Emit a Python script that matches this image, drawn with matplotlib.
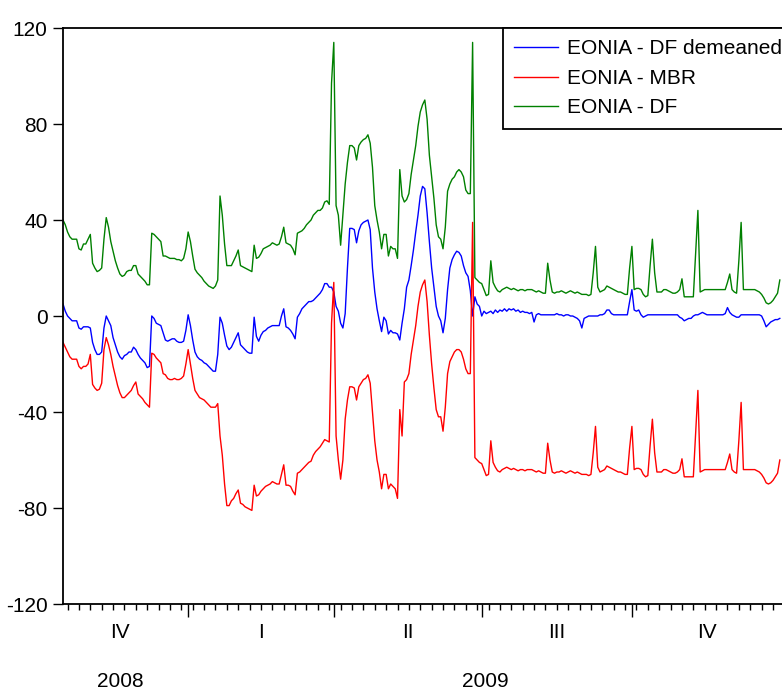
import numpy as np
import pandas as pd
import matplotlib
matplotlib.use("Agg")
import matplotlib.pyplot as plt
import matplotlib.transforms as mtransforms
from matplotlib import font_manager

# Daily (business-day) observations, 16 Oct 2008 .. 31 Dec 2009, basis points
dates = pd.bdate_range("2008-10-16", "2009-12-31")

eonia_df_demeaned = [
    5, 2, 0, -1, -2, -2, -2, -5, -5.5, -4.5,
    -4.5, -4.5, -5, -11, -14, -16, -16, -15, -5, 0,
    -2, -4, -9, -12, -15, -17, -18, -16.5, -16, -15,
    -15, -13, -14, -16, -17.5, -18.5, -19.5, -21.5, -21, 0,
    -1, -3, -3.5, -4, -7, -10, -10.5, -10, -9.5, -9.5,
    -10.5, -11, -11, -10.5, -6, 0.5, -4, -10, -15, -17,
    -18, -18.5, -19.5, -20, -21, -22, -23, -23, -16, -0.5,
    -3, -8, -12.5, -14, -13, -11, -9, -7, -12, -13,
    -14, -15, -15.5, -15.5, -0.5, -8.5, -10.5, -8, -6.5, -6,
    -5, -4.5, -4, -4, -4, -4, 0, 3, -4.5, -5,
    -6, -7.5, -9.5, -0.5, 1, 3, 4, 5, 6, 6,
    6.5, 7.5, 8.5, 9.5, 11, 13.5, 13.5, 12, 12, 10,
    4, 2, -3, -5, 1, 20, 36.5, 36.5, 36, 30.5,
    35.5, 38, 39, 39.5, 40, 36, 20, 10, 3, -2,
    -6.5, -0.5, -2, -7.5, -6, -7, -7, -7.5, -10, -3,
    3, 12, 15, 21, 27.5, 35, 42, 50, 54, 53,
    43, 31, 20, 12, 4, 0, -2, -7, -1, 11,
    20, 23.5, 25.5, 27, 26.5, 25, 21, 18, 16.5, 10.5,
    0, 8, 5, 4, 0, 2, 1, 1.5, 2, 1,
    2.5, 1.5, 2.5, 2, 3, 2, 3, 2.5, 3, 2,
    2.5, 1.5, 2, 1.5, 1.5, 1, 1.5, -2.5, 0.5, 1,
    0.5, 0.5, 0.5, 0.5, 0.5, 0.5, 0.5, 1, 0.5, 0.5,
    0, 0.5, 0.5, 0, 0, -0.5, -1, -2, -5, -1,
    -0.5, 0, 0, 0, 0, 0, 0.5, 0.5, 1, 2.5,
    2.5, 1, 0.5, 0.5, 0.5, 0.5, 0.5, 0.5, 0.5, 6,
    11, 2.5, 2, 2.5, 0.5, -0.5, 0, 0.5, 0.5, 0.5,
    0.5, 0.5, 0.5, 0.5, 0.5, 0.5, 0.5, 0.5, 0.5, 0.5,
    0.5, -0.5, -1, -2, -1.5, -1, -1, 0, 0.5, 0.5,
    1, 1.5, 1, 0.5, 0.5, 0.5, 0.5, 0.5, 0.5, 0.5,
    0.5, 1, 3.5, 1.5, 0.5, 0, -0.5, -0.5, 0.5, 0.5,
    0.5, 0.5, 0.5, 0.5, 0.5, 0.5, 0.5, 0, -2, -4.5,
    -3.5, -2.5, -2, -1.5, -1.5, -1,
]

eonia_mbr = [
    -11, -13, -15, -17, -18, -18, -18, -21, -22, -21,
    -21, -20, -16, -28.5, -30, -31, -30.5, -28, -14, -9,
    -12, -16, -21, -25, -29, -32, -34, -34, -33, -32,
    -31, -29, -27.5, -32.5, -33.5, -34.5, -36, -37, -38, -15.5,
    -16, -17.5, -18.5, -19.5, -24, -24.5, -26, -26.5, -26.5, -26,
    -26.5, -26.5, -26, -25, -20, -14, -20, -26, -31, -32.5,
    -34, -34.5, -35, -36, -37, -38, -38, -38, -36.5, -50,
    -58, -70, -79, -79, -77, -76, -74, -72.5, -78, -78.5,
    -79.5, -80, -80.5, -81, -70.5, -75, -74.5, -73, -72, -71,
    -70.5, -70, -69, -69.5, -70, -70, -66, -62, -70.5, -70.5,
    -71, -73, -74.5, -65.5, -65, -64, -63, -62, -61, -60.5,
    -58, -56.5, -55.5, -54.5, -53, -51.5, -52, -52.5, -3, 14,
    -50, -60, -68, -60, -43, -35, -29.5, -29.5, -30, -35,
    -29.5, -28, -26.5, -26, -24.5, -28, -40, -52, -60, -65,
    -72, -66, -66, -72, -70, -71, -72, -76, -39, -50,
    -27.5, -26.5, -24, -16, -10, -4, 4, 10, 13, 15,
    6, -8, -20, -30, -39, -42, -42, -48, -38, -24,
    -19, -17, -15, -14, -14, -15, -18, -22, -24, -24,
    39, -59, -60, -61, -61.5, -64, -66.5, -66, -52, -61,
    -63, -64.5, -65, -64, -63.5, -63, -63.5, -64, -63.5, -64,
    -64.5, -64, -64, -64.5, -64, -64, -64, -64.5, -65, -64.5,
    -65, -65.5, -65.5, -53, -60, -65, -65.5, -65, -65, -64.5,
    -65, -65.5, -65, -64.5, -65, -65.5, -65, -65.5, -66, -66,
    -66, -66.5, -66, -57, -46, -63, -65, -64.5, -64, -62.5,
    -63, -63.5, -64, -64.5, -65, -65, -65.5, -66, -66, -55,
    -46, -64, -63.5, -63.5, -64, -66, -67, -66.5, -54, -43,
    -57, -65, -65, -65, -64, -64, -64.5, -65, -65.5, -65.5,
    -65, -64, -59.5, -67, -67, -67, -67, -67, -49, -31,
    -65, -64.5, -64, -64, -64, -64, -64, -64, -64, -64,
    -64, -64, -61, -57.5, -64, -65, -65.5, -52, -36, -64,
    -64, -64, -64, -64, -64, -64.5, -65, -66, -67.5, -69.5,
    -70, -69.5, -68.5, -67, -65.5, -60,
]

eonia_df = [
    40, 38, 35, 33, 32, 32, 32, 28, 27.5, 30,
    30, 32, 34, 22, 20, 18.5, 19, 20, 32, 41,
    37, 31, 27, 23, 20, 17.5, 16.5, 17, 18.5, 19,
    19, 21, 21, 17.5, 16.5, 15.5, 14.5, 13, 13, 34.5,
    34, 33, 32, 31, 25, 25, 24.5, 24, 24, 24,
    23.5, 23.5, 23, 24, 28, 35, 31, 25, 19.5, 18,
    17, 16, 14.5, 13.5, 12.5, 12, 11.5, 12.5, 15, 50,
    42, 30, 21, 21, 21, 23, 25, 27.5, 21, 20.5,
    20, 19.5, 19, 18.5, 29.5, 24, 24.5, 26, 28, 28.5,
    29, 29.5, 30.5, 30, 29.5, 30, 33, 37, 30.5, 30,
    29.5, 28, 25.5, 34.5, 35, 35.5, 36.5, 38, 39, 40,
    42, 43, 44, 44, 45, 47.5, 48, 46.5, 97, 114,
    46, 42, 29.5, 42, 55, 64, 71, 71, 70, 65,
    71, 72.5, 73.5, 74, 75.5, 72, 62, 46, 40, 35,
    28, 34, 34, 25, 29, 28, 28, 24, 61, 50,
    47.5, 48.5, 51, 59, 65, 71, 79, 85, 88, 90,
    82, 67, 58, 49, 38, 33, 32, 28, 37, 52,
    55, 57, 58, 60, 61, 60, 58, 52.5, 51, 51,
    114, 16, 15, 14, 13.5, 11, 8.5, 9, 23, 14,
    12, 10.5, 10, 11, 11.5, 12, 11.5, 11, 11.5, 11,
    10.5, 11, 11, 10.5, 11, 11, 11, 10.5, 10, 10.5,
    10, 9.5, 9.5, 22, 15, 10, 9.5, 10, 10, 10.5,
    10, 9.5, 10, 10.5, 10, 9.5, 10, 9.5, 9, 9,
    9, 8.5, 9, 18, 29, 12, 10, 10.5, 11, 12.5,
    12, 11.5, 11, 10.5, 10, 10, 9.5, 9, 9, 20,
    29, 11, 11.5, 11.5, 11, 9, 8, 8.5, 21, 32,
    18, 10, 10, 10, 11, 11, 10.5, 10, 9.5, 9.5,
    10, 11, 15.5, 8, 8, 8, 8, 8, 26, 44,
    10, 10.5, 11, 11, 11, 11, 11, 11, 11, 11,
    11, 11, 14, 17.5, 11, 10, 9.5, 23, 39, 11,
    11, 11, 11, 11, 11, 10.5, 10, 9, 7.5, 5.5,
    5, 5.5, 6.5, 8, 9.5, 15,
]

series_names = ["EONIA - DF demeaned", "EONIA - MBR", "EONIA - DF"]
series_colors = ["#0000ff", "#ff0000", "#008000"]
quarter_names = ["IV", "I", "II", "III", "IV"]
year_names = ["2008", "2009"]

# Шрифт: узкий Arial-подобный, если есть
installed = {f.name for f in font_manager.fontManager.ttflist}
if "Liberation Sans Narrow" in installed:
    font_family, font_size = "Liberation Sans Narrow", 18
else:
    font_family, font_size = "Liberation Sans", 15
plt.rcParams["font.family"] = font_family
plt.rcParams["axes.unicode_minus"] = False

obs = np.arange(len(dates))
n = len(dates)

fig = plt.figure(figsize=(7.82, 6.93), dpi=100)
ax = fig.add_axes([63 / 782, 89 / 693, 720 / 782, 576 / 693])

lines = []
for vals, name, col in zip([eonia_df_demeaned, eonia_mbr, eonia_df], series_names, series_colors):
    ln, = ax.plot(obs, vals, color=col, lw=1.0, label=name)
    lines.append(ln)

ax.set_xlim(0, n + 0.4)
ax.set_ylim(-120, 120)

# Ось Y
ax.set_yticks([120, 80, 40, 0, -40, -80, -120])
ax.set_yticklabels(["120", "80", "40", "0", "-40", "-80", "-120"])
ax.tick_params(axis="y", direction="out", length=7, width=1, pad=4, labelsize=font_size)

# Ось X: недели (понедельники) и границы кварталов
q_starts = [i for i in range(1, n) if dates[i].quarter != dates[i - 1].quarter]
mondays = [i for i in range(n) if dates[i].weekday() == 0 and i not in q_starts]
ax.set_xticks(q_starts)
ax.set_xticks(mondays, minor=True)
ax.tick_params(axis="x", which="major", direction="out", length=9, width=1, labelbottom=False)
ax.tick_params(axis="x", which="minor", direction="out", length=4.5, width=1, labelbottom=False)

for side in ["left", "top", "bottom"]:
    ax.spines[side].set_linewidth(1.3)
ax.spines["right"].set_visible(False)

trans = mtransforms.blended_transform_factory(ax.transData, ax.transAxes)
bounds = [0] + q_starts + [n]
for k, q in enumerate(quarter_names):
    xc = (bounds[k] + bounds[k + 1]) / 2
    if k == 0:
        xc -= 2.5  # первый квартал неполный
    ax.text(xc, -0.049, q, transform=trans, ha="center", va="center", fontsize=font_size)

year_bounds = [0, q_starts[0], n]
for k, y in enumerate(year_names):
    xc = (year_bounds[k] + year_bounds[k + 1]) / 2
    if k == 0:
        xc -= 2.5
    ax.text(xc, -0.135, y, transform=trans, ha="center", va="center", fontsize=font_size)

leg = ax.legend(
    handles=lines, loc="upper left", bbox_to_anchor=((503 - 63) / 720, 1.0),
    borderaxespad=0, fancybox=False, framealpha=1, edgecolor="black",
    fontsize=font_size, handlelength=2.1, handletextpad=0.43,
    labelspacing=0.5, borderpad=0.55,
)
leg.get_frame().set_linewidth(1.3)

fig.savefig("out.png", dpi=100)
